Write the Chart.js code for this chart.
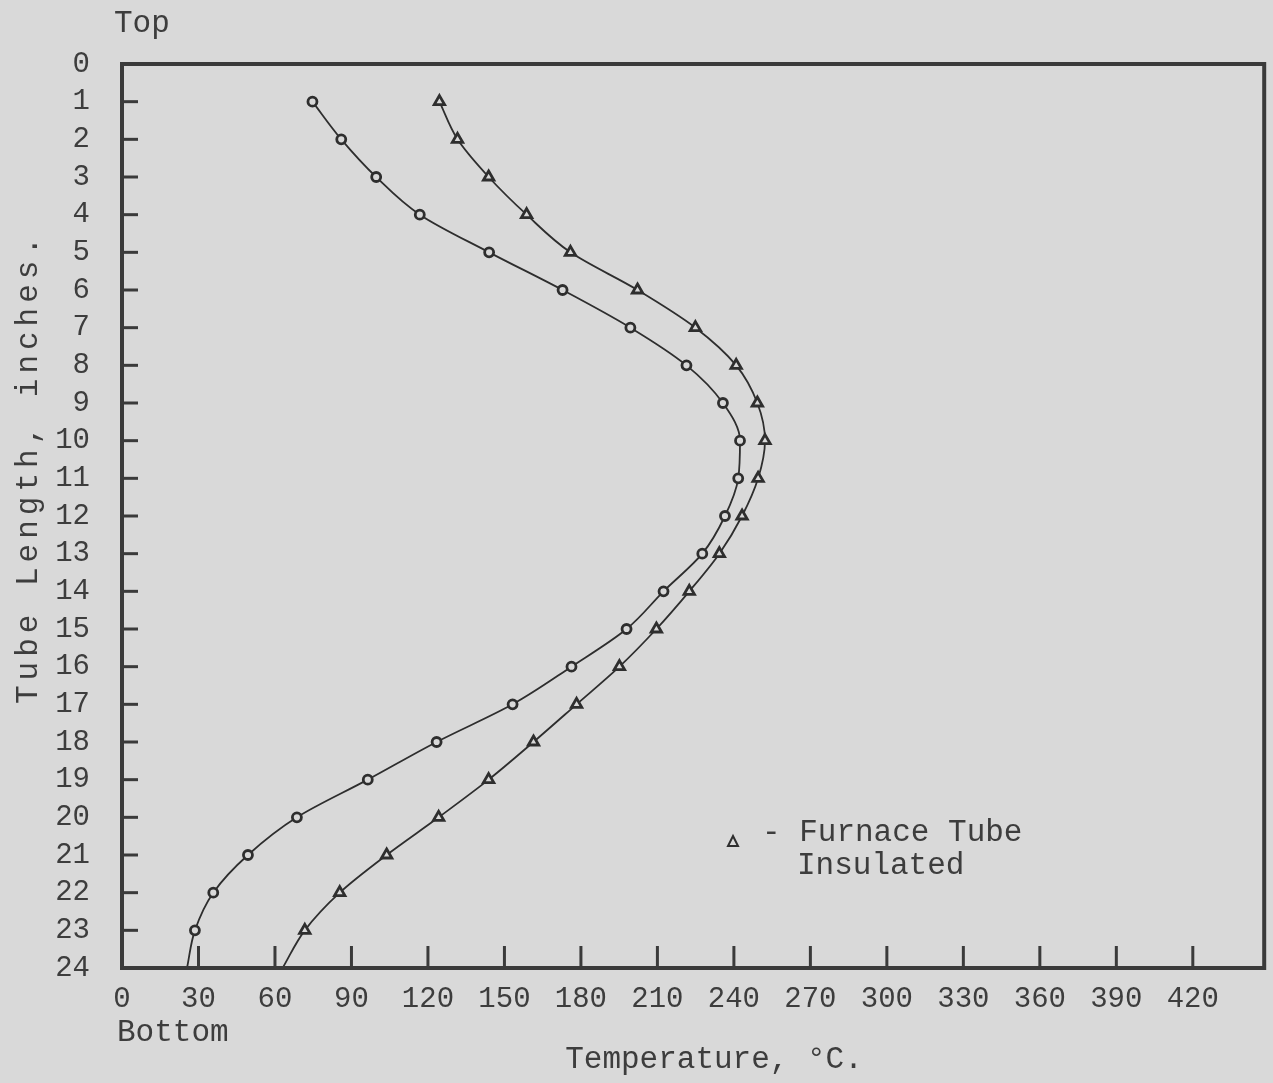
<!DOCTYPE html>
<html>
<head>
<meta charset="utf-8">
<script src="https://cdn.jsdelivr.net/npm/chart.js@4.4.1/dist/chart.umd.min.js"></script>
<style>
  html, body { margin: 0; padding: 0; background: #d9d9d9; }
  #wrap { width: 1273px; height: 1083px; }
</style>
</head>
<body>
<div id="wrap"><canvas id="tc" width="1273" height="1083"></canvas></div>
<script>
// tube length (inches from top) and temperatures
const inches = [1,2,3,4,5,6,7,8,9,10,11,12,13,14,15,16,17,18,19,20,21,22,23,24];
const plainTemps = [74.7, 86, 99.7, 116.8, 144, 172.8, 199.4, 221.4, 235.7, 242.4, 241.7, 236.5,
                    227.6, 212.4, 197.9, 176.3, 153.2, 123.4, 96.4, 68.6, 49.4, 35.8, 28.6, 25.5];
const insulatedTemps = [124.5, 131.6, 143.8, 158.7, 175.9, 202.2, 224.9, 240.9, 249.2, 252.2, 249.5, 243.2,
                        234.3, 222.5, 209.6, 195.1, 178.3, 161.4, 143.8, 124.2, 103.8, 85.4, 71.7, 63];
const xTicks = [0,30,60,90,120,150,180,210,240,270,300,330,360,390,420];
const yTitle = 'Tube Length, inches.';
const xTitle = 'Temperature, \u00B0C.';
const topLabel = 'Top';
const bottomLabel = 'Bottom';
const legendLines = ['- Furnace Tube', 'Insulated'];

const ink = '#2e2e2e';
const txt = '#3d3d3d';
const mono = '"Liberation Mono", "DejaVu Sans Mono", monospace';

function pts(vals) {
  return vals.map((v, i) => ({x: v, y: inches[i]}));
}

const extras = {
  id: 'extras',
  afterDraw(chart) {
    const {ctx, chartArea: a, scales} = chart;
    ctx.save();
    // frame
    ctx.strokeStyle = '#3a3a3a';
    ctx.lineWidth = 4;
    ctx.strokeRect(a.left, a.top, a.right - a.left, a.bottom - a.top);
    // inside tick marks
    ctx.lineWidth = 3;
    xTicks.forEach(v => {
      if (v === 0) return;
      const px = scales.x.getPixelForValue(v);
      ctx.beginPath();
      ctx.moveTo(px, a.bottom);
      ctx.lineTo(px, a.bottom - 22);
      ctx.stroke();
    });
    inches.forEach(v => {
      if (v === 24) return;
      const py = scales.y.getPixelForValue(v);
      ctx.beginPath();
      ctx.moveTo(a.left, py);
      ctx.lineTo(a.left + 16, py);
      ctx.stroke();
    });
    // texts
    ctx.fillStyle = txt;
    ctx.font = '31px ' + mono;
    ctx.textBaseline = 'middle';
    ctx.textAlign = 'left';
    ctx.fillText(topLabel, 114, 24);
    ctx.fillText(bottomLabel, 117, 1033);
    ctx.textAlign = 'center';
    ctx.fillText(xTitle, 714, 1060);
    ctx.save();
    ctx.translate(29, 468);
    ctx.rotate(-Math.PI / 2);
    ctx.letterSpacing = '5px';
    ctx.fillText(yTitle, 0, 0);
    ctx.restore();
    // legend
    ctx.textAlign = 'left';
    ctx.fillText(legendLines[0], 762, 833);
    ctx.fillText(legendLines[1], 797, 866);
    ctx.strokeStyle = ink;
    ctx.lineWidth = 2;
    ctx.beginPath();
    ctx.moveTo(733, 836);
    ctx.lineTo(738, 846);
    ctx.lineTo(728, 846);
    ctx.closePath();
    ctx.stroke();
    ctx.restore();
  }
};

new Chart(document.getElementById('tc').getContext('2d'), {
  type: 'line',
  data: {
    datasets: [{
      label: 'Furnace Tube',
      data: pts(plainTemps),
      borderColor: ink,
      borderWidth: 1.8,
      pointStyle: 'circle',
      pointRadius: c => c.dataIndex === 23 ? 0 : 4.5,
      pointBorderWidth: 2.8,
      pointBorderColor: ink,
      pointBackgroundColor: '#d9d9d9',
      cubicInterpolationMode: 'monotone'
    }, {
      label: 'Furnace Tube Insulated',
      data: pts(insulatedTemps),
      borderColor: ink,
      borderWidth: 1.8,
      pointStyle: 'triangle',
      pointRadius: c => c.dataIndex === 23 ? 0 : 6,
      pointBorderWidth: 2.8,
      pointBorderColor: ink,
      pointBackgroundColor: '#d9d9d9',
      cubicInterpolationMode: 'monotone'
    }]
  },
  options: {
    indexAxis: 'y',
    responsive: false,
    animation: false,
    layout: { padding: { top: 64, right: 7, left: 0, bottom: 0 } },
    plugins: {
      legend: { display: false },
      tooltip: { enabled: false }
    },
    scales: {
      x: {
        type: 'linear',
        min: 0,
        max: 448,
        afterBuildTicks: s => { s.ticks = xTicks.map(v => ({value: v})); },
        afterFit: s => { s.height = 1083 - 968; },
        grid: { display: false },
        border: { display: false },
        ticks: {
          autoSkip: false,
          maxRotation: 0,
          padding: 6,
          color: txt,
          font: { family: mono, size: 29 }
        }
      },
      y: {
        type: 'linear',
        reverse: true,
        min: 0,
        max: 24,
        afterFit: s => { s.width = 122; },
        grid: { display: false },
        border: { display: false },
        ticks: {
          stepSize: 1,
          autoSkip: false,
          padding: 24,
          color: txt,
          font: { family: mono, size: 29 }
        }
      }
    }
  },
  plugins: [extras]
});
</script>
</body>
</html>
